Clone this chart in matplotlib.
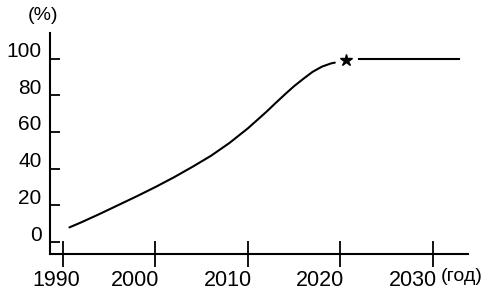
import matplotlib
matplotlib.use("Agg")
import matplotlib.pyplot as plt
from matplotlib.transforms import ScaledTranslation

plt.rcParams["font.family"] = ["Liberation Sans", "DejaVu Sans"]

# curve (year, %)
years = [1990.7, 1992, 1994, 1996, 1998, 2000, 2002, 2004, 2006, 2008, 2010,
         2011, 2012, 2013, 2014, 2015, 2016, 2017, 2018, 2019, 2019.4]
share = [8, 10.8, 15.4, 20.2, 25, 30, 35.3, 41, 47, 54, 62,
         66.5, 71, 75.8, 80.5, 85, 89, 92.8, 95.6, 97.4, 97.8]
star_year, star_val = 2020.6, 99
plateau_years = [2022, 2032.8]
plateau_vals = [100, 100]

xticks = [1990, 2000, 2010, 2020, 2030]
yticks = [0, 20, 40, 60, 80, 100]

fig = plt.figure(figsize=(4.88, 3.02), dpi=100)
ax = fig.add_axes([0.1025, 0.159, 0.8565, 0.732])

ax.plot(years, share, color="black", lw=1.5, solid_capstyle="round", solid_joinstyle="round")
ax.plot([star_year], [star_val], marker="*", color="black", ms=9, ls="none")
ax.plot(plateau_years, plateau_vals, color="black", lw=1.5)

ax.set_xlim(1988.6, 2033.8)
ax.set_ylim(-6.5, 114)
for s in ("top", "right"):
    ax.spines[s].set_visible(False)
for s in ("left", "bottom"):
    ax.spines[s].set_linewidth(1.5)

ax.set_xticks(xticks)
ax.set_yticks(yticks)
ax.tick_params(axis="x", direction="inout", length=19, width=1.3, pad=2, labelsize=15.5)
ax.tick_params(axis="y", direction="in", length=7, width=1.3, pad=6, labelsize=15)

# y labels sit a bit above their ticks
up = ScaledTranslation(0, 0.09, fig.dpi_scale_trans)
for lab in ax.get_yticklabels():
    lab.set_transform(lab.get_transform() + up)

# x labels sit left of their ticks (the first one less so)
for i, lab in enumerate(ax.get_xticklabels()):
    dx = -0.07 if i == 0 else -0.20
    lab.set_transform(lab.get_transform() + ScaledTranslation(dx, 0, fig.dpi_scale_trans))

fig.text(0.088, 0.95, "(%)", fontsize=14, ha="center", va="center")
fig.text(0.947, 0.083, "(год)", fontsize=14, ha="center", va="center")

fig.savefig("out.png", dpi=100)
